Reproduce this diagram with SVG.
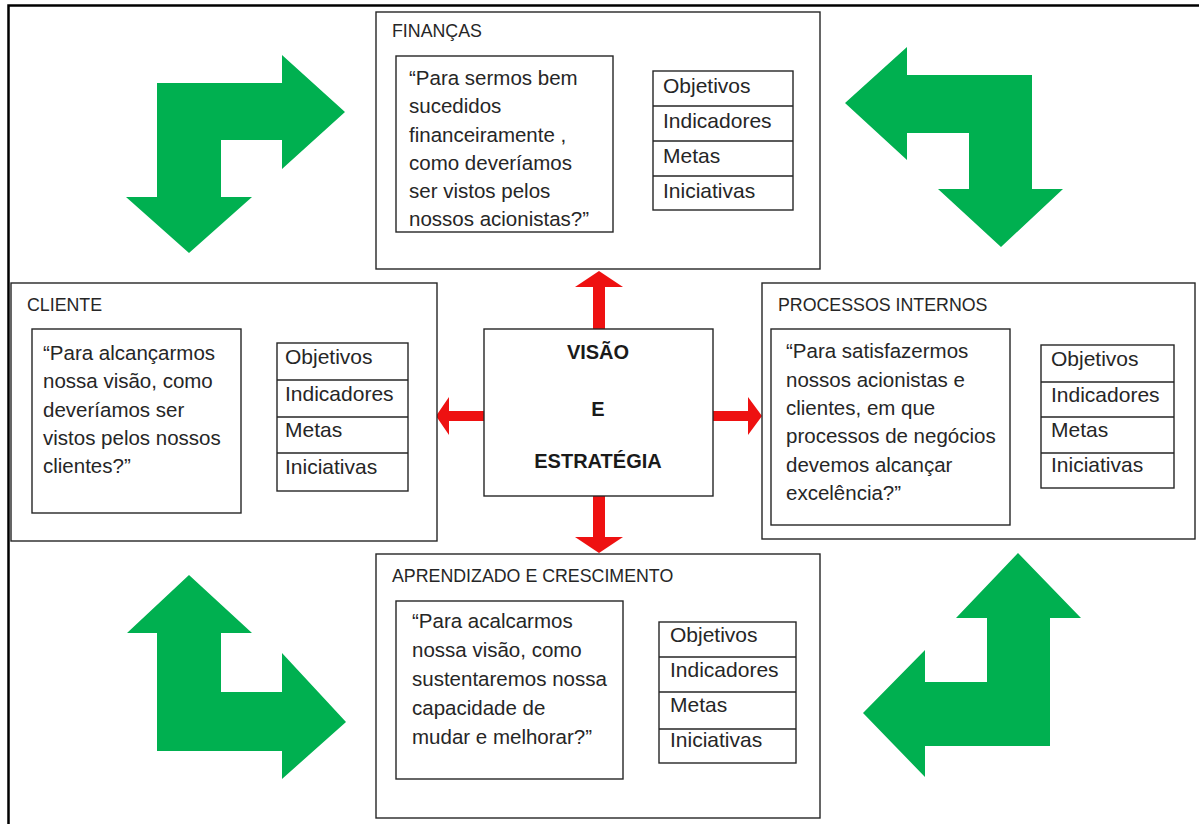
<svg xmlns="http://www.w3.org/2000/svg" width="1199" height="824" viewBox="0 0 1199 824">
<style>
  .box { fill: #ffffff; stroke: #262626; stroke-width: 1.4; }
  .title { font-family: "Liberation Sans", Arial, sans-serif; font-size: 17.8px; fill: #262626; }
  .quote { font-family: "Liberation Sans", Arial, sans-serif; font-size: 20.5px; fill: #262626; }
  .cell { font-family: "Liberation Sans", Arial, sans-serif; font-size: 21px; fill: #262626; }
  .center { font-family: "Liberation Sans", Arial, sans-serif; font-size: 20px; font-weight: bold; fill: #1a1a1a; text-anchor: middle; }
  .green { fill: #00b050; }
  .red { fill: #ee1111; }
  .frame { fill: none; stroke: #000000; stroke-width: 2.5; }
</style>
<rect x="0" y="0" width="1199" height="824" fill="#ffffff"/>
<path class="frame" d="M8.5,824 V5.5 H1199"/>

<g id="connectors">
  <g id="cycle-arrows">
    <polygon class="green" points="157,83 282,83 282,55 345,112 282,169 282,140 221,140 221,197 252,197 189,253 126,197 157,197"/>
    <polygon class="green" points="1032,75 907,75 907,47 845,103 907,160 907,133 969,133 969,189 938,189 1001,247 1063,189 1032,189"/>
    <polygon class="green" points="189,575 252,633 221,633 221,692 282,692 282,653 346,722 282,779 282,751 157,751 157,633 127,633"/>
    <polygon class="green" points="1018,553 1081,618 1050,618 1050,746 925,746 925,777 863,713 925,650 925,682 987,682 987,618 956,618"/>
  </g>
  <g id="red-arrows">
    <polygon class="red" points="593,329 593,287 575,287 599,271 623,287 605,287 605,329"/>
    <polygon class="red" points="593,496 593,537 575,537 599,553 623,537 605,537 605,496"/>
    <polygon class="red" points="484,411 449,411 449,397 436,416 449,435 449,421 484,421"/>
    <polygon class="red" points="713,411 748,411 748,397 762,416 748,435 748,421 713,421"/>
  </g>
</g>

<g id="financas">
  <rect class="box" x="376" y="12" width="444" height="257"/>
  <text class="title" x="392" y="37">FINANÇAS</text>
  <rect class="box" x="396" y="56" width="217" height="176"/>
  <text class="quote" x="409" y="85">“Para sermos bem</text>
  <text class="quote" x="409" y="113">sucedidos</text>
  <text class="quote" x="409" y="141.5">financeiramente ,</text>
  <text class="quote" x="409" y="170">como deveríamos</text>
  <text class="quote" x="409" y="198">ser vistos pelos</text>
  <text class="quote" x="409" y="226">nossos acionistas?”</text>
  <rect class="box" x="653" y="71" width="140" height="139"/>
  <path class="box" d="M653,106 H793 M653,141 H793 M653,176 H793"/>
  <text class="cell" x="663" y="93">Objetivos</text>
  <text class="cell" x="663" y="128">Indicadores</text>
  <text class="cell" x="663" y="163">Metas</text>
  <text class="cell" x="663" y="198">Iniciativas</text>
</g>

<g id="cliente">
  <rect class="box" x="11" y="283" width="426" height="258"/>
  <text class="title" x="27" y="311">CLIENTE</text>
  <rect class="box" x="32" y="329" width="209" height="184"/>
  <text class="quote" x="43" y="360">“Para alcançarmos</text>
  <text class="quote" x="43" y="388">nossa visão, como</text>
  <text class="quote" x="43" y="417">deveríamos ser</text>
  <text class="quote" x="43" y="445">vistos pelos nossos</text>
  <text class="quote" x="43" y="473">clientes?”</text>
  <rect class="box" x="277" y="343" width="131" height="148"/>
  <path class="box" d="M277,380 H408 M277,417 H408 M277,453 H408"/>
  <text class="cell" x="285" y="364">Objetivos</text>
  <text class="cell" x="285" y="401">Indicadores</text>
  <text class="cell" x="285" y="437">Metas</text>
  <text class="cell" x="285" y="474">Iniciativas</text>
</g>

<g id="visao">
  <rect class="box" x="484" y="329" width="229" height="167"/>
  <text class="center" x="598" y="359">VISÃO</text>
  <text class="center" x="598" y="416">E</text>
  <text class="center" x="598" y="468">ESTRATÉGIA</text>
</g>

<g id="processos">
  <rect class="box" x="762" y="283" width="433" height="256"/>
  <text class="title" x="778" y="311">PROCESSOS INTERNOS</text>
  <rect class="box" x="771" y="329" width="239" height="196"/>
  <text class="quote" x="786" y="358">“Para satisfazermos</text>
  <text class="quote" x="786" y="387">nossos acionistas e</text>
  <text class="quote" x="786" y="415">clientes, em que</text>
  <text class="quote" x="786" y="443">processos de negócios</text>
  <text class="quote" x="786" y="472">devemos alcançar</text>
  <text class="quote" x="786" y="500">excelência?”</text>
  <rect class="box" x="1041" y="345" width="133" height="143"/>
  <path class="box" d="M1041,382 H1174 M1041,417 H1174 M1041,453 H1174"/>
  <text class="cell" x="1051" y="366">Objetivos</text>
  <text class="cell" x="1051" y="402">Indicadores</text>
  <text class="cell" x="1051" y="437">Metas</text>
  <text class="cell" x="1051" y="472">Iniciativas</text>
</g>

<g id="aprendizado">
  <rect class="box" x="376" y="554" width="444" height="264"/>
  <text class="title" x="392" y="582">APRENDIZADO E CRESCIMENTO</text>
  <rect class="box" x="396" y="601" width="227" height="178"/>
  <text class="quote" x="412" y="628">“Para acalcarmos</text>
  <text class="quote" x="412" y="657">nossa visão, como</text>
  <text class="quote" x="412" y="686">sustentaremos nossa</text>
  <text class="quote" x="412" y="715">capacidade de</text>
  <text class="quote" x="412" y="744">mudar e melhorar?”</text>
  <rect class="box" x="659" y="622" width="137" height="141"/>
  <path class="box" d="M659,657 H796 M659,692 H796 M659,729 H796"/>
  <text class="cell" x="670" y="642">Objetivos</text>
  <text class="cell" x="670" y="677">Indicadores</text>
  <text class="cell" x="670" y="712">Metas</text>
  <text class="cell" x="670" y="747">Iniciativas</text>
</g>
</svg>
